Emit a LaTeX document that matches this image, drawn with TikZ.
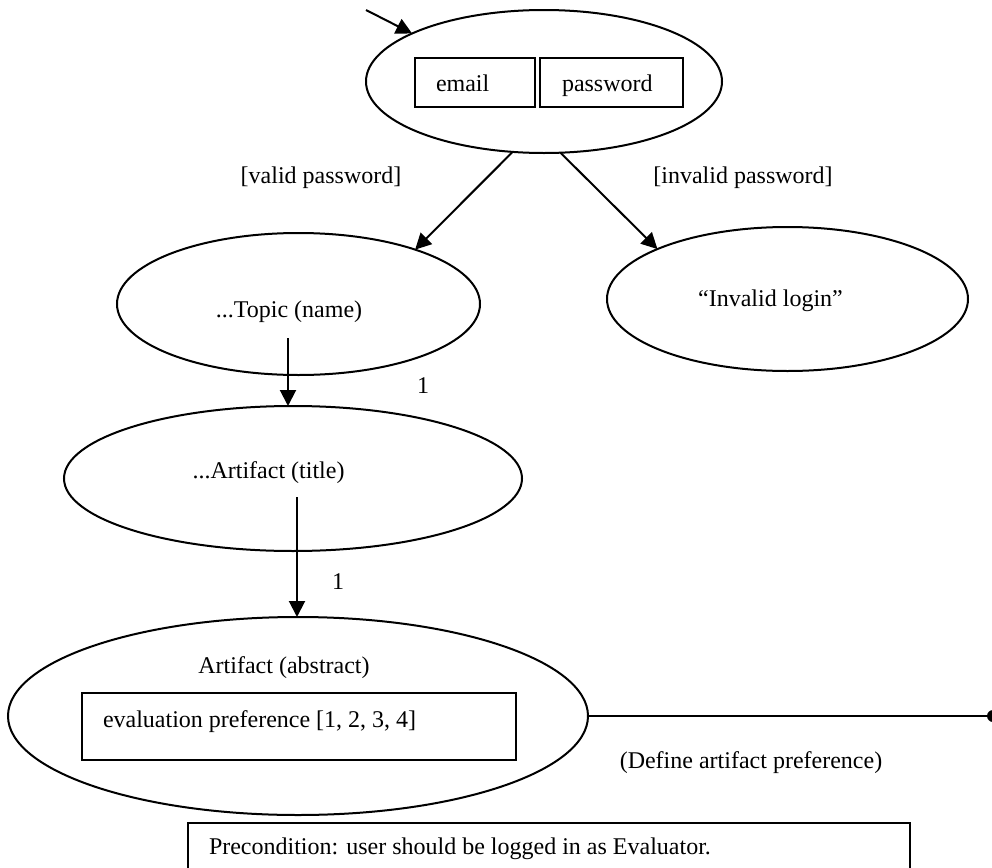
\documentclass[tikz,border=0pt]{standalone}
\usepackage{fontspec}
\setmainfont{Liberation Serif}
\usetikzlibrary{arrows.meta,shapes.geometric}
\begin{document}
\begin{tikzpicture}[x=0.5pt,y=-0.5pt,
  state/.style={draw,ellipse,line width=1pt,inner sep=0pt,outer sep=0pt},
  field/.style={draw,rectangle,line width=1pt,inner sep=0pt,outer sep=0pt,anchor=north west},
  lbl/.style={inner sep=0pt,outer sep=0pt,font=\fontsize{12}{14}\selectfont},
  arr/.style={line width=1pt,-{Triangle[length=8pt,width=8pt]}},
  conn/.style={line width=1pt}]
\useasboundingbox (0,0) rectangle (992,868);

% states
\node[state,minimum width=178pt,minimum height=71.5pt] (login) at (544,81.5) {};
\node[state,minimum width=181.5pt,minimum height=71pt] (topic) at (298.5,304) {};
\node[state,minimum width=180.5pt,minimum height=72pt] (invalid) at (787.5,299) {};
\node[state,minimum width=229pt,minimum height=72.5pt] (title) at (293,478.5) {};
\node[state,minimum width=290pt,minimum height=99pt] (abstract) at (298,716) {};

% input fields
\node[field,minimum width=60pt,minimum height=24.5pt] (emailbox) at (415,58) {};
\node[field,minimum width=71.5pt,minimum height=24.5pt] (pwbox) at (540,58) {};
\node[field,minimum width=217pt,minimum height=33.5pt] (prefbox) at (82,693) {};
\node[field,minimum width=361pt,minimum height=30pt] (precond) at (188,823) {};

% texts
\node[lbl,anchor=base west] (emailtxt) at (436,91) {email};
\node[lbl,anchor=base west] (pwtxt) at (562,91) {password};
\node[lbl] (topictxt) at (289,312) {...Topic (name)};
\node[lbl] (invalidtxt) at (770.5,301) {“Invalid login”};
\node[lbl] (titletxt) at (268.5,473) {...Artifact (title)};
\node[lbl] (abstracttxt) at (284,668) {Artifact (abstract)};
\node[lbl,anchor=west] (preftxt) at (103,722) {evaluation preference [1, 2, 3, 4]};
\node[lbl,anchor=west] (precondtxt) at (209,849) {Precondition: user should be logged in as Evaluator.};

% transition labels
\node[lbl] (validlbl) at (321,178) {[valid password]};
\node[lbl] (invalidlbl) at (743,178) {[invalid password]};
\node[lbl] (mult1) at (423,386) {1};
\node[lbl] (mult2) at (338,582) {1};
\node[lbl] (definelbl) at (751,763) {(Define artifact preference)};

% connectors
\coordinate (entry) at (366,10);
\draw[arr] (entry) -- (login.160);
\draw[arr] (login.246) -- (topic.25.5);
\draw[arr] (login.283) -- (invalid.159.6);
\coordinate (t1) at ([shift={(-10.5,34)}]topic.center);
\draw[arr] (t1) -- (t1 |- title.north);
\coordinate (t2) at ([shift={(4,18.5)}]title.center);
\draw[arr] (t2) -- (t2 |- abstract.north);
\coordinate (dot) at (993,716);
\draw[conn] (abstract.east) -- (dot);
\fill (dot) circle (3pt);
\end{tikzpicture}
\end{document}
